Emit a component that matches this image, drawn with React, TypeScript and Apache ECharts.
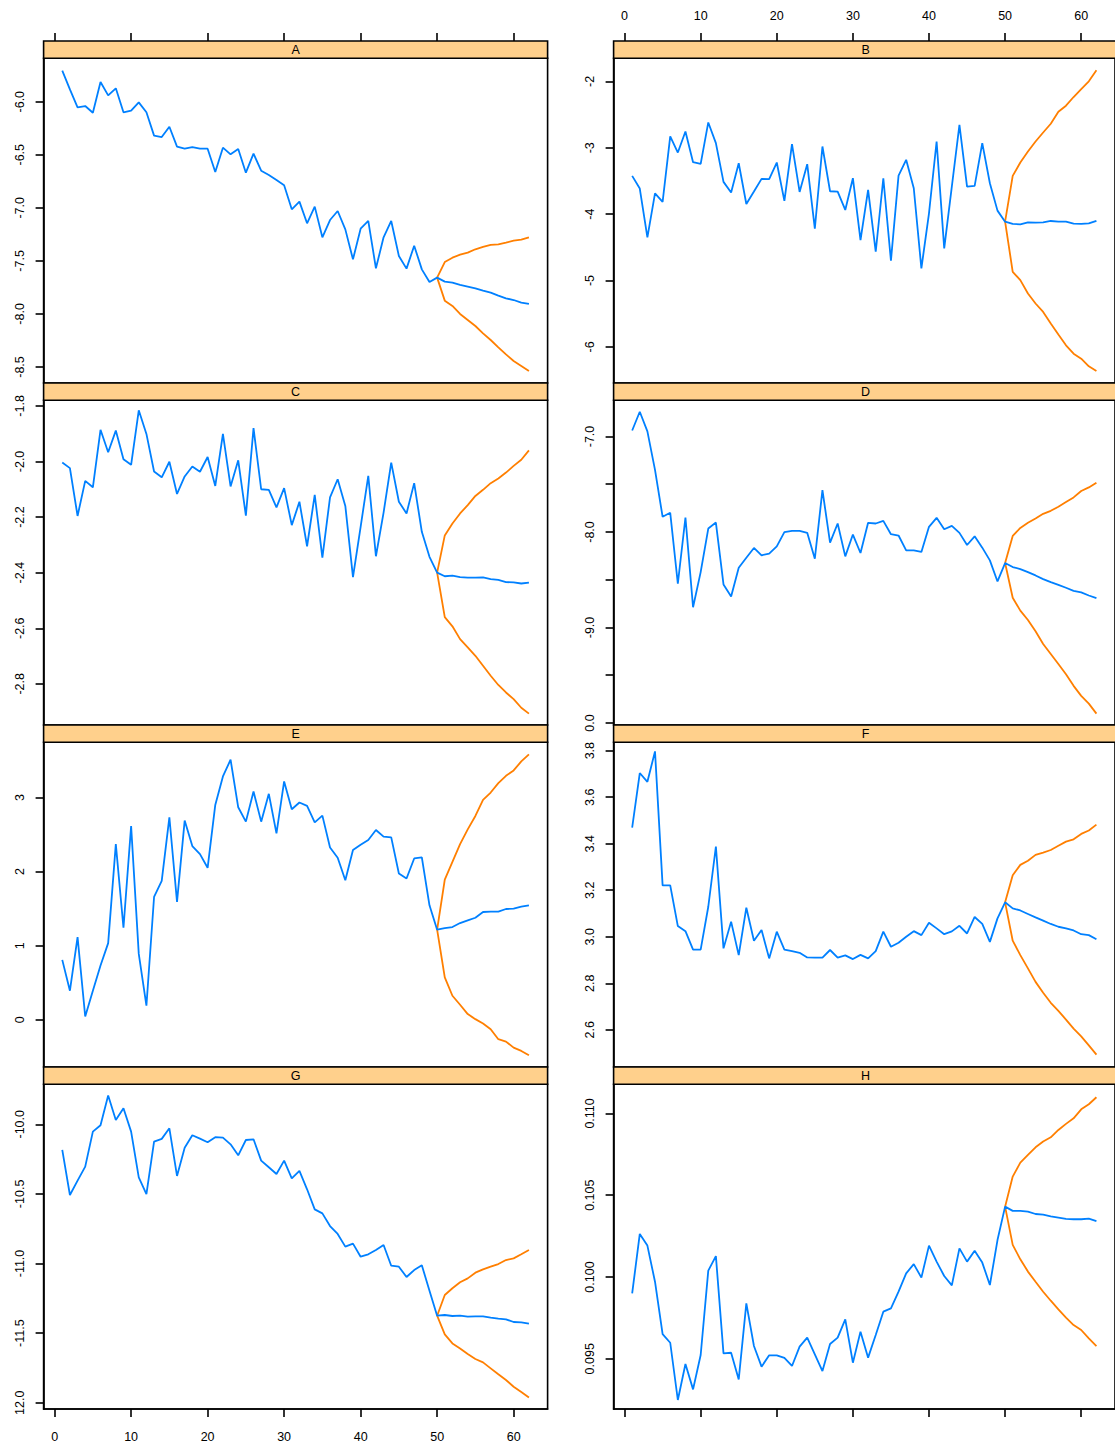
import React, { useEffect, useRef } from "react";
import * as echarts from "echarts";

const panelNames = ["A", "B", "C", "D", "E", "F", "G", "H"];
const xTicks = [0, 10, 20, 30, 40, 50, 60];

// history t = 1..50
const histA = [-5.708, -5.884, -6.053, -6.041, -6.104, -5.815, -5.94, -5.874, -6.1, -6.085, -6.006, -6.1, -6.32, -6.333, -6.236, -6.424, -6.443, -6.427, -6.443, -6.443, -6.663, -6.433, -6.496, -6.446, -6.669, -6.49, -6.65, -6.69, -6.738, -6.788, -7.014, -6.942, -7.146, -6.989, -7.278, -7.115, -7.03, -7.203, -7.486, -7.197, -7.124, -7.57, -7.278, -7.124, -7.454, -7.573, -7.357, -7.58, -7.7, -7.658];
const fcA = [-7.696, -7.705, -7.727, -7.743, -7.759, -7.781, -7.8, -7.828, -7.853, -7.869, -7.894, -7.906];
const upA = [-7.511, -7.47, -7.442, -7.423, -7.391, -7.369, -7.35, -7.344, -7.328, -7.31, -7.3, -7.278];
const loA = [-7.875, -7.925, -8.0, -8.057, -8.114, -8.183, -8.246, -8.315, -8.381, -8.444, -8.49, -8.538];

const histB = [-3.424, -3.615, -4.35, -3.686, -3.816, -2.83, -3.072, -2.755, -3.218, -3.243, -2.619, -2.931, -3.514, -3.675, -3.233, -3.847, -3.66, -3.469, -3.474, -3.223, -3.801, -2.946, -3.665, -3.248, -4.219, -2.981, -3.655, -3.66, -3.937, -3.459, -4.39, -3.635, -4.566, -3.459, -4.702, -3.419, -3.182, -3.61, -4.818, -3.987, -2.906, -4.516, -3.585, -2.654, -3.585, -3.575, -2.931, -3.535, -3.947, -4.113];
const fcB = [-4.148, -4.153, -4.123, -4.128, -4.123, -4.103, -4.113, -4.113, -4.143, -4.148, -4.14, -4.1];
const upB = [-3.424, -3.223, -3.057, -2.906, -2.77, -2.639, -2.458, -2.367, -2.236, -2.116, -2.0, -1.834];
const loB = [-4.868, -4.994, -5.195, -5.346, -5.472, -5.648, -5.814, -5.975, -6.101, -6.176, -6.292, -6.362];

const histC = [-2.004, -2.024, -2.196, -2.07, -2.093, -1.886, -1.967, -1.889, -1.992, -2.012, -1.816, -1.901, -2.036, -2.057, -2.001, -2.117, -2.054, -2.018, -2.037, -1.984, -2.088, -1.901, -2.09, -1.996, -2.195, -1.88, -2.1, -2.102, -2.165, -2.096, -2.229, -2.145, -2.305, -2.12, -2.346, -2.129, -2.064, -2.16, -2.416, -2.235, -2.052, -2.341, -2.184, -2.004, -2.145, -2.187, -2.078, -2.253, -2.343, -2.4];
const fcC = [-2.413, -2.411, -2.416, -2.418, -2.418, -2.417, -2.423, -2.426, -2.434, -2.435, -2.439, -2.436];
const upC = [-2.266, -2.223, -2.187, -2.157, -2.124, -2.102, -2.078, -2.061, -2.04, -2.016, -1.994, -1.96];
const loC = [-2.56, -2.593, -2.639, -2.669, -2.699, -2.735, -2.771, -2.804, -2.831, -2.855, -2.886, -2.907];

const histD = [-6.937, -6.741, -6.947, -7.35, -7.841, -7.799, -8.542, -7.848, -8.788, -8.42, -7.964, -7.901, -8.549, -8.675, -8.374, -8.269, -8.167, -8.244, -8.227, -8.15, -8.002, -7.988, -7.988, -8.009, -8.279, -7.561, -8.111, -7.911, -8.255, -8.027, -8.22, -7.904, -7.911, -7.883, -8.023, -8.037, -8.192, -8.192, -8.209, -7.946, -7.852, -7.971, -7.936, -8.009, -8.136, -8.045, -8.164, -8.297, -8.518, -8.325];
const fcD = [-8.367, -8.388, -8.42, -8.455, -8.493, -8.525, -8.553, -8.584, -8.616, -8.633, -8.665, -8.693];
const upD = [-8.041, -7.957, -7.904, -7.859, -7.81, -7.778, -7.736, -7.687, -7.638, -7.571, -7.533, -7.484];
const loD = [-8.689, -8.823, -8.921, -9.04, -9.173, -9.278, -9.383, -9.489, -9.611, -9.716, -9.797, -9.902];

const histE = [0.809, 0.393, 1.116, 0.045, 0.393, 0.732, 1.035, 2.372, 1.243, 2.616, 0.89, 0.19, 1.658, 1.875, 2.734, 1.591, 2.689, 2.345, 2.237, 2.052, 2.901, 3.285, 3.511, 2.869, 2.675, 3.082, 2.675, 3.05, 2.517, 3.217, 2.842, 2.933, 2.888, 2.666, 2.756, 2.327, 2.187, 1.884, 2.291, 2.363, 2.427, 2.562, 2.472, 2.463, 1.975, 1.907, 2.178, 2.192, 1.545, 1.216];
const fcE = [1.238, 1.252, 1.306, 1.342, 1.378, 1.455, 1.46, 1.46, 1.496, 1.5, 1.527, 1.545];
const upE = [1.893, 2.133, 2.372, 2.571, 2.752, 2.969, 3.068, 3.195, 3.294, 3.366, 3.488, 3.583];
const loE = [0.574, 0.325, 0.203, 0.077, 0.009, -0.05, -0.127, -0.262, -0.294, -0.375, -0.42, -0.479];

const histF = [3.469, 3.704, 3.666, 3.797, 3.221, 3.221, 3.046, 3.024, 2.945, 2.945, 3.129, 3.388, 2.95, 3.065, 2.921, 3.125, 2.983, 3.029, 2.907, 3.022, 2.945, 2.938, 2.931, 2.911, 2.91, 2.91, 2.943, 2.91, 2.92, 2.904, 2.922, 2.907, 2.938, 3.022, 2.957, 2.974, 3.0, 3.024, 3.007, 3.06, 3.036, 3.011, 3.023, 3.047, 3.014, 3.085, 3.055, 2.978, 3.079, 3.148];
const fcF = [3.122, 3.113, 3.098, 3.083, 3.069, 3.055, 3.043, 3.036, 3.027, 3.011, 3.007, 2.989];
const upF = [3.264, 3.309, 3.327, 3.352, 3.362, 3.373, 3.391, 3.409, 3.419, 3.442, 3.457, 3.482];
const loF = [2.983, 2.921, 2.864, 2.806, 2.759, 2.716, 2.681, 2.644, 2.605, 2.572, 2.533, 2.493];

const histG = [-10.184, -10.508, -10.405, -10.304, -10.053, -10.007, -9.794, -9.969, -9.885, -10.053, -10.381, -10.501, -10.125, -10.105, -10.029, -10.371, -10.168, -10.079, -10.103, -10.129, -10.093, -10.096, -10.144, -10.223, -10.113, -10.108, -10.261, -10.309, -10.357, -10.261, -10.388, -10.335, -10.467, -10.611, -10.64, -10.731, -10.788, -10.879, -10.857, -10.951, -10.934, -10.903, -10.867, -11.016, -11.023, -11.097, -11.047, -11.013, -11.195, -11.375];
const fcG = [-11.37, -11.377, -11.375, -11.382, -11.38, -11.38, -11.389, -11.396, -11.401, -11.42, -11.423, -11.432];
const upG = [-11.226, -11.178, -11.135, -11.107, -11.066, -11.042, -11.023, -11.004, -10.975, -10.963, -10.934, -10.903];
const loG = [-11.509, -11.574, -11.61, -11.65, -11.686, -11.71, -11.753, -11.796, -11.837, -11.885, -11.923, -11.962];

const histH = [0.099, 0.10263, 0.10192, 0.09971, 0.09651, 0.09598, 0.09248, 0.09468, 0.09313, 0.09523, 0.10039, 0.10128, 0.09533, 0.09537, 0.09374, 0.09839, 0.09578, 0.09452, 0.09521, 0.09521, 0.09505, 0.09456, 0.09574, 0.09629, 0.09527, 0.09425, 0.0959, 0.09629, 0.09741, 0.09476, 0.09666, 0.09507, 0.09645, 0.09788, 0.09808, 0.0991, 0.10022, 0.10079, 0.09996, 0.10192, 0.10094, 0.10006, 0.09949, 0.10175, 0.10094, 0.10161, 0.10088, 0.09951, 0.10226, 0.1043];
const fcH = [0.10404, 0.10404, 0.104, 0.10385, 0.10381, 0.10371, 0.10363, 0.10355, 0.10353, 0.10353, 0.10357, 0.10342];
const upH = [0.10614, 0.10699, 0.10746, 0.10793, 0.10828, 0.10854, 0.10899, 0.10936, 0.1097, 0.11025, 0.11056, 0.11099];
const loH = [0.10196, 0.10108, 0.10033, 0.09971, 0.0991, 0.09855, 0.09802, 0.09751, 0.09706, 0.09676, 0.09625, 0.09578];

const hists = [histA, histB, histC, histD, histE, histF, histG, histH];
const fcs = [fcA, fcB, fcC, fcD, fcE, fcF, fcG, fcH];
const ups = [upA, upB, upC, upD, upE, upF, upG, upH];
const los = [loA, loB, loC, loD, loE, loF, loG, loH];

// y-axis ranges and ticks
const yMins = [-8.651, -6.543, -2.948, -10.021, -0.637, 2.44, -12.045, 0.09193];
const yMaxs = [-5.591, -1.653, -1.78, -6.621, 3.746, 3.836, -9.713, 0.11178];
const yTicks = [
  [-6.0, -6.5, -7.0, -7.5, -8.0, -8.5],
  [-2, -3, -4, -5, -6],
  [-1.8, -2.0, -2.2, -2.4, -2.6, -2.8],
  [-7.0, -7.5, -8.0, -8.5, -9.0, -9.5, -10.0],
  [0, 1, 2, 3],
  [2.6, 2.8, 3.0, 3.2, 3.4, 3.6, 3.8],
  [-10.0, -10.5, -11.0, -11.5, -12.0],
  [0.095, 0.1, 0.105, 0.11],
];
const yLabelVals = [
  [-6.0, -6.5, -7.0, -7.5, -8.0, -8.5],
  [-2, -3, -4, -5, -6],
  [-1.8, -2.0, -2.2, -2.4, -2.6, -2.8],
  [-7.0, -8.0, -9.0, -10.0],
  [0, 1, 2, 3],
  [2.6, 2.8, 3.0, 3.2, 3.4, 3.6, 3.8],
  [-10.0, -10.5, -11.0, -11.5, -12.0],
  [0.095, 0.1, 0.105, 0.11],
];
const yDecimals = [1, 0, 1, 1, 0, 1, 1, 3];
// labels partly clipped in the reference
const clippedLabels: Record<string, string> = { "3:-10": "0.0", "6:-12": "12.0" };

const BLUE = "#0080FF";
const ORANGE = "#FF7F00";
const STRIP = "#FFD08C";
const FONT = "'Liberation Sans', Arial, sans-serif";

const COL_LEFT = [43.6, 613.6];
const PANEL_W = 504;
const FIRST_TOP = 58.3;
const PITCH = 342;
const STRIP_H = 17.3;
const PLOT_H = 324.7;
const X_MIN = -1.44;
const X_MAX = 64.44;
const LINE_W = 1.8;
const AXIS_W = 1.6;

function buildOption() {
  const grids: any[] = [];
  const xAxes: any[] = [];
  const yAxes: any[] = [];
  const series: any[] = [];
  const graphics: any[] = [];

  for (let i = 0; i < 8; i++) {
    const col = i % 2;
    const row = Math.floor(i / 2);
    const left = COL_LEFT[col];
    const top = FIRST_TOP + PITCH * row;
    grids.push({
      left,
      top,
      width: PANEL_W,
      height: PLOT_H,
      show: true,
      borderColor: "#000",
      borderWidth: AXIS_W,
      backgroundColor: "transparent",
      containLabel: false,
    });
    const isBottom = row === 3;
    xAxes.push({
      type: "value",
      gridIndex: i,
      min: X_MIN,
      max: X_MAX,
      position: "bottom",
      splitLine: { show: false },
      axisLine: { show: isBottom, onZero: false, lineStyle: { color: "#000", width: AXIS_W } },
      axisTick: {
        show: isBottom,
        length: 8,
        customValues: xTicks,
        lineStyle: { color: "#000", width: AXIS_W },
      },
      axisLabel: {
        show: isBottom && col === 0,
        customValues: xTicks,
        margin: 21,
        color: "#000",
        fontSize: 12.5,
        fontFamily: FONT,
      },
    });
    const dec = yDecimals[i];
    yAxes.push({
      type: "value",
      gridIndex: i,
      min: yMins[i],
      max: yMaxs[i],
      position: "left",
      splitLine: { show: false },
      axisLine: { show: true, onZero: false, lineStyle: { color: "#000", width: AXIS_W } },
      axisTick: {
        show: true,
        length: 8,
        customValues: yTicks[i],
        lineStyle: { color: "#000", width: AXIS_W },
      },
      axisLabel: {
        show: true,
        customValues: yLabelVals[i],
        rotate: 90,
        margin: 17,
        color: "#000",
        fontSize: 12.5,
        fontFamily: FONT,
        formatter: (v: number) => {
          const key = i + ":" + Math.round(v);
          if (clippedLabels[key] && Math.abs(v - Math.round(v)) < 1e-9) return clippedLabels[key];
          return v.toFixed(dec);
        },
      },
    });

    const hist = hists[i];
    const blue = hist.map((v, k) => [k + 1, v]).concat(fcs[i].map((v, k) => [k + 51, v]));
    const last = [50, hist[hist.length - 1]];
    const up = [last].concat(ups[i].map((v, k) => [k + 51, v]));
    const lo = [last].concat(los[i].map((v, k) => [k + 51, v]));
    const common = {
      type: "line",
      xAxisIndex: i,
      yAxisIndex: i,
      showSymbol: false,
      symbol: "none",
      silent: true,
      clip: true,
    };
    series.push({ ...common, name: panelNames[i] + "-up", data: up, lineStyle: { color: ORANGE, width: LINE_W } });
    series.push({ ...common, name: panelNames[i] + "-lo", data: lo, lineStyle: { color: ORANGE, width: LINE_W } });
    series.push({ ...common, name: panelNames[i], data: blue, lineStyle: { color: BLUE, width: LINE_W } });

    graphics.push({
      type: "rect",
      shape: { x: left, y: top - STRIP_H, width: PANEL_W, height: STRIP_H },
      style: { fill: STRIP, stroke: "#000", lineWidth: AXIS_W },
      z: 10,
    });
    graphics.push({
      type: "text",
      x: left + PANEL_W / 2,
      y: top - STRIP_H / 2 + 0.5,
      style: {
        text: panelNames[i],
        fill: "#000",
        font: "12.5px " + FONT,
        align: "center",
        verticalAlign: "middle",
      },
      z: 11,
    });
  }

  // top axes for first row (ticks above strips)
  for (let c = 0; c < 2; c++) {
    xAxes.push({
      type: "value",
      gridIndex: c,
      min: X_MIN,
      max: X_MAX,
      position: "top",
      offset: STRIP_H,
      splitLine: { show: false },
      axisLine: { show: false },
      axisTick: {
        show: true,
        length: 8,
        customValues: xTicks,
        lineStyle: { color: "#000", width: AXIS_W },
      },
      axisLabel: {
        show: c === 1,
        customValues: xTicks,
        margin: 19,
        color: "#000",
        fontSize: 12.5,
        fontFamily: FONT,
      },
    });
  }

  return {
    animation: false,
    backgroundColor: "#fff",
    grid: grids,
    xAxis: xAxes,
    yAxis: yAxes,
    series,
    graphic: graphics,
  };
}

export default function App() {
  const ref = useRef<HTMLDivElement>(null);
  useEffect(() => {
    if (!ref.current) return;
    const chart = echarts.init(ref.current, undefined, { renderer: "svg" });
    chart.setOption(buildOption() as any);
    return () => chart.dispose();
  }, []);
  return (
    <div
      ref={ref}
      style={{ position: "fixed", left: 0, top: 0, width: 1115, height: 1445, background: "#fff" }}
    />
  );
}
